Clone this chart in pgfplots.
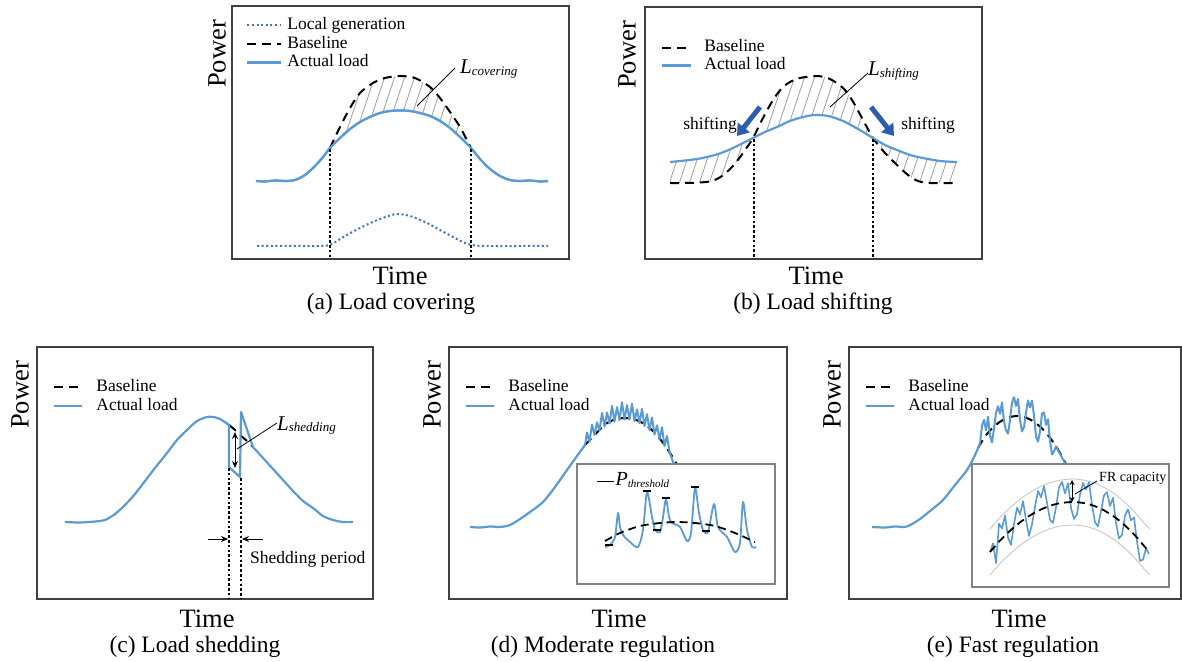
\documentclass[border=0pt]{standalone}
\usepackage{fontspec}
\setmainfont{Liberation Serif}
\usepackage{pgfplots}
\pgfplotsset{compat=1.18}
\usepgfplotslibrary{fillbetween}
\usetikzlibrary{patterns,arrows.meta}

\definecolor{loadblue}{RGB}{91,155,213}
\definecolor{genblue}{RGB}{68,114,196}
\definecolor{arrowblue}{RGB}{48,92,176}
\definecolor{framegray}{RGB}{64,64,64}
\definecolor{insetgray}{RGB}{130,130,130}
\definecolor{hatchgray}{RGB}{165,165,165}
\definecolor{envgray}{RGB}{200,200,200}

\newcommand{\fs}[1]{\fontsize{#1}{#1}\selectfont}

% steep hatching used for the L areas
\pgfdeclarepatternformonly{steephatch}{\pgfqpoint{-1pt}{-1pt}}{\pgfqpoint{11pt}{31pt}}{\pgfqpoint{10pt}{30pt}}{%
  \pgfsetlinewidth{0.9pt}%
  \pgfpathmoveto{\pgfqpoint{0pt}{0pt}}%
  \pgfpathlineto{\pgfqpoint{10pt}{30pt}}%
  \pgfusepath{stroke}}

\tikzset{
  actual/.style={color=loadblue, line width=2.2pt, line join=round},
  base/.style={color=black, line width=2pt, dash pattern=on 9pt off 6pt},
  localgen/.style={color=genblue, line width=2pt, dash pattern=on 2pt off 2.6pt},
  vdot/.style={color=black, line width=2.6pt, dash pattern=on 2.6pt off 2.2pt},
  ptr/.style={black, line width=0.8pt},
}
\pgfplotsset{
  panel/.style={scale only axis, y dir=reverse, anchor=south west, clip=false,
    xtick=\empty, ytick=\empty,
    axis line style={draw=framegray, line width=1.6pt},
    legend cell align=left,
    legend style={draw=none, fill=none, anchor=north west, font=\fs{17.5},
      row sep=0pt, nodes={inner sep=0pt, text height=13.5pt, text depth=5pt},
      /tikz/every odd column/.append style={column sep=13pt}},
    legend image code/.code={\draw[##1] (0pt,0pt) -- (28pt,0pt);}},
  inset/.style={scale only axis, y dir=reverse, anchor=south west, clip=false,
    xtick=\empty, ytick=\empty,
    axis line style={draw=insetgray, line width=1.2pt},
    axis background/.style={fill=white}},
}

\begin{document}
\begin{tikzpicture}

%% (a) Load covering
\begin{axis}[panel, at={(232pt,402pt)}, width=337pt, height=253pt,
  xmin=232, xmax=569, ymin=6, ymax=259,
  legend style={at={(axis cs:243,14)}, /tikz/every odd column/.append style={column sep=5pt}},
  legend image code/.code={\draw[#1] (0pt,0pt) -- (34pt,0pt);}]
\addlegendimage{localgen}
\addlegendimage{base}
\addlegendimage{actual}
\legend{Local generation, Baseline, Actual load}
\addplot[name path=acta, actual, smooth, forget plot] coordinates {
  (256,181) (265,181.5) (275,180.5) (285,181) (295,180) (305,175) (315,166)
  (323,157) (330,148) (340,138) (350,129) (360,122) (370,117) (380,113)
  (390,111) (400,110.5) (410,111) (420,113) (430,116) (440,121) (450,128)
  (460,137) (471,148) (480,159) (490,169) (500,176) (510,180) (520,181)
  (530,180.5) (540,181.5) (548,181)};
\addplot[name path=basea, draw=none, smooth, forget plot] coordinates {
  (330,148) (340,127) (350,108) (360,93) (373,83) (385,78) (400,76) (415,78)
  (430,87) (440,98) (450,112) (460,127) (471,148)};
\addplot[pattern=steephatch, pattern color=hatchgray, forget plot]
  fill between[of=acta and basea, soft clip={domain=330:471}];
\addplot[base, smooth, forget plot] coordinates {
  (330,148) (340,127) (350,108) (360,93) (373,83) (385,78) (400,76) (415,78)
  (430,87) (440,98) (450,112) (460,127) (471,148)};
\addplot[actual, smooth, forget plot] coordinates {
  (256,181) (265,181.5) (275,180.5) (285,181) (295,180) (305,175) (315,166)
  (323,157) (330,148) (340,138) (350,129) (360,122) (370,117) (380,113)
  (390,111) (400,110.5) (410,111) (420,113) (430,116) (440,121) (450,128)
  (460,137) (471,148) (480,159) (490,169) (500,176) (510,180) (520,181)
  (530,180.5) (540,181.5) (548,181)};
\addplot[localgen, smooth, forget plot] coordinates {
  (257,246) (280,246) (300,246) (320,246) (330,245) (345,236) (360,228)
  (375,221) (390,215.5) (398,214) (410,216) (425,222) (440,230) (455,238)
  (465,243) (475,245.5) (490,246) (520,246) (548,246)};
\addplot[vdot, forget plot] coordinates {(330,149) (330,259)};
\addplot[vdot, forget plot] coordinates {(471,149) (471,259)};
\draw[ptr] (axis cs:455,68) -- (axis cs:417,106);
\node[anchor=base west, inner sep=0pt] at (axis cs:460,74)
  {\fs{21}\textit{L}\raisebox{-1.5pt}{\fs{13}\textit{covering}}};
\node[rotate=90, font=\fs{26.5}, inner sep=0pt] at (axis cs:217,54) {Power};
\node[anchor=base, font=\fs{26.5}, inner sep=0pt] at (axis cs:400,285) {Time};
\node[anchor=base, font=\fs{23.5}, inner sep=0pt] at (axis cs:391,310) {(a) Load covering};
\end{axis}

%% (b) Load shifting
\begin{axis}[panel, at={(645pt,402pt)}, width=337pt, height=252pt,
  xmin=645, xmax=982, ymin=7, ymax=259,
  legend style={at={(axis cs:658,37)}, nodes={text height=12.5pt, text depth=5pt},
    /tikz/every odd column/.append style={column sep=12pt}},
  legend image code/.code={\draw[#1] (0pt,0pt) -- (29pt,0pt);}]
\addlegendimage{base}
\addlegendimage{actual}
\legend{Baseline, Actual load}
\addplot[name path=actb, draw=none, smooth, forget plot] coordinates {
  (670,162) (685,160.5) (700,158.5) (715,155) (725,151.5) (733,148) (743,143)
  (753,138) (765,132) (777,127) (790,121) (803,117) (815,115) (828,116)
  (843,121) (858,129) (873,138) (885,145) (897,150) (910,155) (923,158)
  (940,161) (957,162)};
\addplot[name path=baseb, draw=none, smooth, forget plot] coordinates {
  (670,183) (685,183) (700,182.5) (712,181) (722,176) (733,166) (743,153)
  (753,138) (763,118) (773,100) (782,88) (790,82) (800,78) (817,76) (830,79)
  (843,88) (852,100) (862,118) (873,138) (885,153) (897,165) (908,175)
  (918,181) (930,183) (957,183)};
\addplot[pattern=steephatch, pattern color=hatchgray, forget plot]
  fill between[of=actb and baseb];
\addplot[base, smooth, forget plot] coordinates {
  (670,183) (685,183) (700,182.5) (712,181) (722,176) (733,166) (743,153)
  (753,138) (763,118) (773,100) (782,88) (790,82) (800,78) (817,76) (830,79)
  (843,88) (852,100) (862,118) (873,138) (885,153) (897,165) (908,175)
  (918,181) (930,183) (957,183)};
\addplot[actual, smooth, forget plot] coordinates {
  (670,162) (685,160.5) (700,158.5) (715,155) (725,151.5) (733,148) (743,143)
  (753,138) (765,132) (777,127) (790,121) (803,117) (815,115) (828,116)
  (843,121) (858,129) (873,138) (885,145) (897,150) (910,155) (923,158)
  (940,161) (957,162)};
\addplot[vdot, forget plot] coordinates {(754,139) (754,259)};
\addplot[vdot, forget plot] coordinates {(873,139) (873,259)};
\draw[arrowblue, line width=5pt, -{Triangle[width=15pt,length=11pt]}]
  (axis cs:760,107) -- (axis cs:737,136);
\draw[arrowblue, line width=5pt, -{Triangle[width=15pt,length=11pt]}]
  (axis cs:871,107) -- (axis cs:894,136);
\node[font=\fs{17.5}] at (axis cs:710,125) {shifting};
\node[font=\fs{17.5}] at (axis cs:928,125) {shifting};
\draw[ptr] (axis cs:868,73) -- (axis cs:830,107);
\node[anchor=base west, inner sep=0pt] at (axis cs:868,76)
  {\fs{21}\textit{L}\raisebox{-1.5pt}{\fs{13}\textit{shifting}}};
\node[rotate=90, font=\fs{26.5}, inner sep=0pt] at (axis cs:627,55) {Power};
\node[anchor=base, font=\fs{26.5}, inner sep=0pt] at (axis cs:816,285) {Time};
\node[anchor=base, font=\fs{23.5}, inner sep=0pt] at (axis cs:813,310) {(b) Load shifting};
\end{axis}

%% (c) Load shedding
\begin{axis}[panel, at={(37pt,62pt)}, width=336pt, height=252pt,
  xmin=37, xmax=373, ymin=347, ymax=599,
  legend style={at={(axis cs:50,376)}}]
\addlegendimage{base}
\addlegendimage{actual}
\legend{Baseline, Actual load}
\addplot[base, forget plot] coordinates {
  (229,425) (234,429) (240,435) (247,441) (253,447)};
\addplot[actual, smooth, forget plot] coordinates {
  (65,522) (80,522.5) (95,521.5) (105,520) (115,514) (125,505) (135,494)
  (145,481) (155,468) (167,453) (177,440) (187,430) (197,421) (207,417)
  (213,417) (220,419) (229,425)};
\addplot[actual, forget plot] coordinates {
  (229,425) (229,467) (240,477) (241,412) (253,447)};
\addplot[actual, smooth, forget plot] coordinates {
  (253,447) (263,458) (273,469) (283,480) (293,491) (303,501) (313,508)
  (323,516) (333,520) (343,522) (353,522)};
\addplot[vdot, forget plot] coordinates {(229,468) (229,599)};
\addplot[vdot, forget plot] coordinates {(241,478) (241,599)};
\draw[line width=1pt, {Stealth[length=7pt,width=6pt]}-{Stealth[length=7pt,width=6pt]}]
  (axis cs:235,432) -- (axis cs:235,468);
\draw[line width=0.9pt, -{Stealth[length=7pt,width=6pt]}] (axis cs:208,539) -- (axis cs:228,539);
\draw[line width=0.9pt, -{Stealth[length=7pt,width=6pt]}] (axis cs:263,539) -- (axis cs:242,539);
\node[anchor=west, font=\fs{17.5}, inner sep=0pt] at (axis cs:250,559) {Shedding period};
\draw[ptr] (axis cs:277,423) -- (axis cs:237,449);
\node[anchor=base west, inner sep=0pt] at (axis cs:277,430)
  {\fs{21}\textit{L}\raisebox{-1.5pt}{\fs{13}\textit{shedding}}};
\node[rotate=90, font=\fs{26.5}, inner sep=0pt] at (axis cs:20,395) {Power};
\node[anchor=base, font=\fs{26.5}, inner sep=0pt] at (axis cs:207,627) {Time};
\node[anchor=base, font=\fs{23.5}, inner sep=0pt] at (axis cs:195,652) {(c) Load shedding};
\end{axis}

%% (d) Moderate regulation
\begin{axis}[panel, at={(449pt,62pt)}, width=338pt, height=252pt,
  xmin=449, xmax=787, ymin=347, ymax=599,
  legend style={at={(axis cs:462,376)}}]
\addlegendimage{base}
\addlegendimage{actual}
\legend{Baseline, Actual load}
\addplot[base, smooth, forget plot] coordinates {
  (585,445) (595,434.5) (605,424.5) (615,419.4) (625,418) (635,419.5)
  (645,424.5) (655,433) (665,445.5) (675,461) (685,478) (695,495)};
\addplot[actual, smooth, forget plot] coordinates {
  (470,527) (480,527.5) (490,526.5) (500,527) (510,525) (520,519) (530,512)
  (543,502) (555,487) (567,470) (577,456) (585,445)};
\addplot[actual, line width=2pt, forget plot] coordinates {
  (585,445) (587,432.5) (589.5,441.5) (592,424.5) (594.5,435) (597,422.3)
  (599.5,430.5) (602,413) (604.5,426.5) (607,412.5) (609.5,423.5) (612,405.9)
  (614.5,421.5) (617,407.1) (619.5,420) (622,402.2) (624.5,419.5) (627,405.1)
  (629.5,419.5) (632,403.8) (634.5,421) (637,409.4) (639.5,423) (642,408.9)
  (644.5,426) (647,414.2) (649.5,430) (652,417.4) (654.5,434.5) (657,425.4)
  (659.5,439.5) (662,427.2) (664.5,446) (667,435.9) (669.5,452) (673,462)
  (680,472) (690,486)};
\node[rotate=90, font=\fs{26.5}, inner sep=0pt] at (axis cs:432,395) {Power};
\node[anchor=base, font=\fs{26.5}, inner sep=0pt] at (axis cs:619,627) {Time};
\node[anchor=base, font=\fs{23.5}, inner sep=0pt] at (axis cs:603,652) {(d) Moderate regulation};
\end{axis}

\begin{axis}[inset, at={(577pt,77pt)}, width=198pt, height=120pt,
  xmin=577, xmax=775, ymin=464, ymax=584,
  legend style={draw=none, fill=none, anchor=north west, at={(axis cs:593,470)},
    row sep=0pt, nodes={inner sep=0pt, text height=13.5pt, text depth=5pt},
    /tikz/every odd column/.append style={column sep=1pt}},
  legend cell align=left,
  legend image code/.code={\draw[#1] (0pt,0pt) -- (17pt,0pt);}]
\addlegendimage{black, line width=1.5pt}
\legend{{\fs{20}\textit{P}\raisebox{-2pt}{\fs{11}\textit{threshold}}}}
\addplot[actual, line width=1.8pt, smooth, tension=0.45, forget plot] coordinates {
  (605,547) (610,545) (615,537) (618,513) (620,527) (623,535) (630,542)
  (638,547) (643,530) (647,492) (652,517) (655,530) (660,532) (663,517)
  (666,499) (669,517) (672,523) (680,527) (687,541) (691,533) (695,488)
  (699,513) (703,530) (708,532) (714,504) (718,527) (727,537) (735,552)
  (740,543) (743,502) (747,530) (752,547) (756,547)};
\addplot[base, line width=1.8pt, dash pattern=on 8pt off 5pt, smooth, forget plot] coordinates {
  (605,541) (620,533) (640,526) (660,523) (677,522) (695,523) (715,526)
  (735,533) (755,542)};
\addplot[only marks, mark=-, mark size=4pt, mark options={black, line width=2pt}, forget plot]
  coordinates {(647,491) (666,498) (695,487) (609,545) (657,530) (706,531)};
\end{axis}

%% (e) Fast regulation
\begin{axis}[panel, at={(849pt,62pt)}, width=332pt, height=252pt,
  xmin=849, xmax=1181, ymin=347, ymax=599,
  legend style={at={(axis cs:862,376)}}]
\addlegendimage{base}
\addlegendimage{actual}
\legend{Baseline, Actual load}
\addplot[base, smooth, forget plot] coordinates {
  (978,448) (985,436.5) (992,428.5) (1000,421.8) (1008,417.6) (1017,416)
  (1026,417.6) (1034,421.8) (1042,428.5) (1050,437.8) (1058,449.6)
  (1066,464) (1075,480)};
\addplot[actual, smooth, forget plot] coordinates {
  (872,527) (885,527.5) (895,526.5) (905,527) (912,524) (920,519) (930,511)
  (943,500) (955,485) (967,470) (975,455) (980,443.4)};
\addplot[actual, line width=2pt, forget plot] coordinates {
  (980,443.4) (982,425.5) (984,419.8) (986,430.2) (988,416.8) (990,435.6)
  (992,442.5) (994,428.6) (996,412.8) (998,406.2) (1000,413.8) (1002,402.5)
  (1004,421.4) (1006,430.4) (1008,433.6) (1010,420) (1012,402.5) (1014,397.2)
  (1016,406) (1018,399) (1020,420.2) (1022,431.5) (1024,427) (1026,412.6)
  (1028,400.4) (1030,407.4) (1032,400.5) (1034,415.8) (1036,436.2)
  (1038,441.8) (1040,431.6) (1042,413.5) (1044,412.6) (1046,424.8)
  (1048,419.2) (1050,440.8) (1052,454.5) (1054,451.4) (1056,446.4)
  (1060,454) (1065,463) (1070,473) (1080,490)};
\node[rotate=90, font=\fs{26.5}, inner sep=0pt] at (axis cs:832,395) {Power};
\node[anchor=base, font=\fs{26.5}, inner sep=0pt] at (axis cs:1019,627) {Time};
\node[anchor=base, font=\fs{23.5}, inner sep=0pt] at (axis cs:1013,652) {(e) Fast regulation};
\end{axis}

\begin{axis}[inset, at={(972pt,74pt)}, width=197pt, height=123pt,
  xmin=972, xmax=1169, ymin=464, ymax=587]
\addplot[envgray, line width=0.9pt, smooth] coordinates {
  (990,529) (1000,517.6) (1010,507.8) (1020,499.4) (1030,492.4) (1040,486.9)
  (1050,482.8) (1060,480.2) (1073,479) (1085,480.3) (1095,483.2) (1105,487.9)
  (1115,494.3) (1125,502.5) (1135,512.4) (1145,524.1) (1150,529)};
\addplot[envgray, line width=0.9pt, smooth] coordinates {
  (990,575) (1000,563.6) (1010,553.8) (1020,545.4) (1030,538.4) (1040,532.9)
  (1050,528.8) (1060,526.2) (1073,525) (1085,526.3) (1095,529.2) (1105,533.9)
  (1115,540.3) (1125,548.5) (1135,558.4) (1145,570.1) (1150,575)};
\addplot[actual, line width=1.6pt] coordinates {
  (990,552) (993,543.4) (996,563) (999,523.7) (1002,528.5) (1005,515.5)
  (1008,537.6) (1011,544.9) (1014,524.2) (1017,507.7) (1020,514.4)
  (1023,501.1) (1026,520) (1029,536) (1032,524.2) (1035,506.5) (1038,490.9)
  (1041,497.4) (1044,486.1) (1047,502.9) (1050,519.8) (1053,522.9)
  (1056,507.1) (1059,487.4) (1062,481.9) (1065,493.5) (1068,483.2) (1071,508)
  (1074,519) (1077,514.1) (1080,494.4) (1083,482.9) (1086,489.5) (1089,482.2)
  (1092,505.1) (1095,522.2) (1098,526.4) (1101,510.8) (1104,495.4)
  (1107,492.1) (1110,505.9) (1113,497.9) (1116,523.1) (1119,538.4)
  (1122,534.9) (1125,515.5) (1128,509.3) (1131,520.3) (1134,517.4)
  (1137,541.6) (1140,561) (1143,559.6) (1146,548.3) (1149,554.2)};
\addplot[base, line width=1.8pt, dash pattern=on 8pt off 5pt, smooth] coordinates {
  (990,552) (1000,540.6) (1010,530.8) (1020,522.4) (1030,515.4) (1040,509.9)
  (1050,505.8) (1060,503.2) (1073,502) (1085,503.3) (1095,506.2) (1105,510.9)
  (1115,517.3) (1125,525.5) (1135,535.4) (1145,547.1) (1149,552)};
\draw[line width=0.9pt, {Stealth[length=5pt,width=5pt]}-{Stealth[length=5pt,width=5pt]}]
  (axis cs:1072,480) -- (axis cs:1072,502);
\draw[ptr] (axis cs:1097,481) -- (axis cs:1075,494);
\node[anchor=west, font=\fs{14}, inner sep=0pt] at (axis cs:1099,478) {FR capacity};
\end{axis}

% page is exactly the 1182 x 661 canvas
\pgfresetboundingbox
\path (0,0) rectangle (1182pt,661pt);
\end{tikzpicture}
\end{document}
